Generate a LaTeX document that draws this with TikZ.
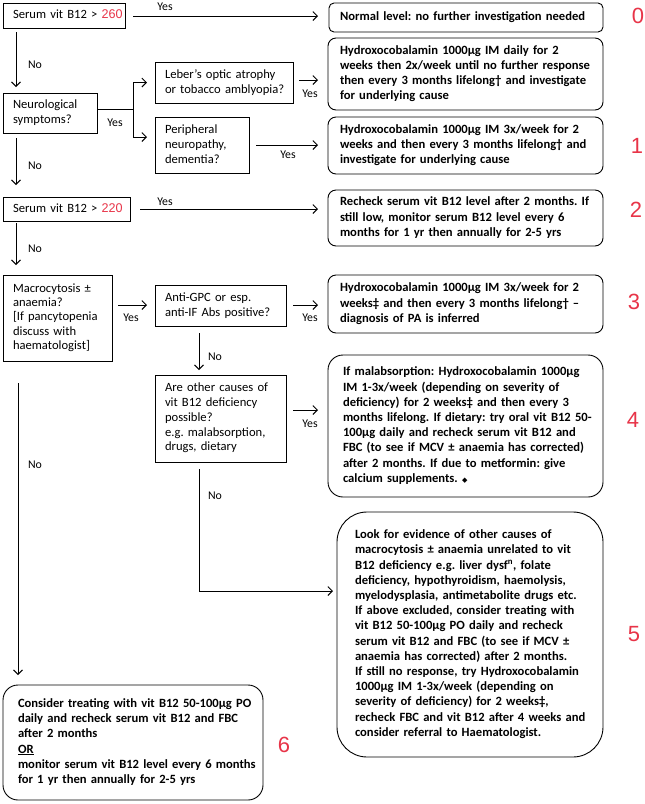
\documentclass[tikz,border=0pt]{standalone}
\usepackage{fontspec}
\setmainfont{Carlito}
\newfontfamily\hel{Liberation Sans}
\newfontfamily\dejavu{DejaVu Sans}
\usetikzlibrary{arrows.meta}
\definecolor{numred}{RGB}{232,52,72}
\newcommand\tl[1]{\begin{tabular}{@{}l@{}}#1\end{tabular}}
\newcommand\rd[1]{{\hel\color{numred}#1}}
\frenchspacing
\tikzset{
  base/.style={draw, line width=0.9pt, anchor=north west, outer sep=0pt, inner ysep=1pt, align=left},
  lbox/.style={base, font=\frenchspacing\fontsize{12.6}{15}\selectfont},
  rbox/.style={base, font=\frenchspacing\fontsize{12.6}{15.2}\selectfont\bfseries},
  lab/.style={font=\fontsize{11.8}{13}\selectfont, inner sep=0pt},
  num/.style={font=\hel\fontsize{22}{24}\selectfont, text=numred, inner sep=0pt},
  arr/.style={line width=0.9pt, -{Straight Barb[length=4.5pt,width=9pt,line width=0.9pt]}},
  con/.style={line width=0.9pt}
}
\begin{document}
\begin{tikzpicture}[x=1pt,y=-1pt]
\fill[white] (0,0) rectangle (645,804);
\useasboundingbox (0,0) rectangle (645,804);

% left column
\node[lbox, minimum width=122pt, minimum height=25pt, inner xsep=10pt, text width=102pt] (n260) at (3,3) {\tl{Serum vit B12 > \rd{260}}};
\node[lbox, minimum width=94pt, minimum height=40pt, inner xsep=10pt, text width=74pt] (neuro) at (3,93) {\tl{Neurological\\symptoms?}};
\node[lbox, minimum width=138pt, minimum height=41pt, inner xsep=10pt, text width=118pt] (leber) at (155,62) {\tl{Leber’s optic atrophy\\or tobacco amblyopia?}};
\node[lbox, minimum width=94pt, minimum height=56pt, inner xsep=10pt, text width=74pt] (peri) at (155,117) {\tl{Peripheral\\neuropathy,\\dementia?}};
\node[lbox, minimum width=127pt, minimum height=24pt, inner xsep=10pt, text width=107pt] (s220) at (3,197) {\tl{Serum vit B12 > \rd{220}}};
\node[lbox, font=\frenchspacing\fontsize{12.6}{14.4}\selectfont, minimum width=109pt, minimum height=86pt, inner xsep=10pt, text width=89pt] (macro) at (3,275) {\tl{Macrocytosis ±\\anaemia?\\{[}If pancytopenia\\discuss with\\haematologist]}};
\node[lbox, minimum width=131pt, minimum height=41pt, inner xsep=10pt, text width=111pt] (antigpc) at (155,285) {\tl{Anti-GPC or esp.\\anti-IF Abs positive?}};
\node[lbox, font=\frenchspacing\fontsize{12.6}{14.75}\selectfont, minimum width=131pt, minimum height=87pt, inner xsep=10pt, text width=111pt] (other) at (155,375) {\tl{Are other causes of\\vit B12 deficiency\\possible?\\e.g. malabsorption,\\drugs, dietary}};

% right column
\node[rbox, rounded corners=5pt, minimum width=274pt, minimum height=29pt, inner xsep=11pt, text width=252pt] (box0) at (329,3) {\tl{Normal level: no further investigation needed}};
\node[rbox, rounded corners=8pt, minimum width=275pt, minimum height=72pt, inner xsep=12pt, text width=251pt] (box1a) at (328,38) {\tl{Hydroxocobalamin 1000µg IM daily for 2\\weeks then 2x/week until no further response\\then every 3 months lifelong† and investigate\\for underlying cause}};
\node[rbox, rounded corners=8pt, minimum width=275pt, minimum height=57pt, inner xsep=12pt, text width=251pt] (box1b) at (328,117) {\tl{Hydroxocobalamin 1000µg IM 3x/week for 2\\weeks and then every 3 months lifelong† and\\investigate for underlying cause}};
\node[rbox, rounded corners=8pt, minimum width=275pt, minimum height=56pt, inner xsep=12pt, text width=251pt] (box2) at (328,190) {\tl{Recheck serum vit B12 level after 2 months. If\\still low, monitor serum B12 level every 6\\months for 1 yr then annually for 2-5 yrs}};
\node[rbox, rounded corners=8pt, minimum width=275pt, minimum height=58pt, inner xsep=12pt, text width=251pt] (box3) at (328,275) {\tl{Hydroxocobalamin 1000µg IM 3x/week for 2\\weeks‡ and then every 3 months lifelong† –\\diagnosis of PA is inferred}};
\node[rbox, rounded corners=15pt, minimum width=275pt, minimum height=142pt, inner xsep=15pt, text width=245pt] (box4) at (328,355) {\tl{If malabsorption: Hydroxocobalamin 1000µg\\IM 1-3x/week (depending on severity of\\deficiency) for 2 weeks‡ and then every 3\\months lifelong. If dietary: try oral vit B12 50-\\100µg daily and recheck serum vit B12 and\\FBC (to see if MCV ± anaemia has corrected)\\after 2 months. If due to metformin: give\\calcium supplements. {\dejavu\fontsize{7}{8}\selectfont ◆}}};
\node[rbox, rounded corners=30pt, minimum width=266pt, minimum height=245pt, inner xsep=18pt, text width=230pt] (box5) at (337,512) {\tl{Look for evidence of other causes of\\macrocytosis ± anaemia unrelated to vit\\B12 deficiency e.g. liver dysf\textsuperscript{n}, folate\\deficiency, hypothyroidism, haemolysis,\\myelodysplasia, antimetabolite drugs etc.\\If above excluded, consider treating with\\vit B12 50-100µg PO daily and recheck\\serum vit B12 and FBC (to see if MCV ±\\anaemia has corrected) after 2 months.\\If still no response, try Hydroxocobalamin\\1000µg IM 1-3x/week (depending on\\severity of deficiency) for 2 weeks‡,\\recheck FBC and vit B12 after 4 weeks and\\consider referral to Haematologist.}};
\node[rbox, rounded corners=15pt, minimum width=260pt, minimum height=115pt, inner xsep=15pt, text width=230pt] (box6) at (3,685) {\tl{Consider treating with vit B12 50-100µg PO\\daily and recheck serum vit B12 and FBC\\after 2 months\\\underline{OR}\\monitor serum vit B12 level every 6 months\\for 1 yr then annually for 2-5 yrs}};

% numbers
\node[num] (k0) at (638,16) {0};
\node[num] (k1) at (637,146) {1};
\node[num] (k2) at (636,210) {2};
\node[num] (k3) at (634,302) {3};
\node[num] (k4) at (633,420) {4};
\node[num] (k5) at (634,634) {5};
\node[num] (k6) at (284,745) {6};

% connectors
\draw[arr, shorten <=8pt, shorten >=11pt] (n260.east |- 0,16) -- (box0.west |- 0,16);
\draw[arr, shorten <=4pt, shorten >=6pt] (n260.south west -| 16,0) -- (neuro.north west -| 16,0);
\coordinate (split) at (133,109);
\draw[con] (neuro.east |- split) -- (split);
\draw[arr, shorten >=8pt] (split) |- (leber.west);
\draw[arr, shorten >=8pt] (split) |- (peri.west |- 0,137);
\draw[arr, shorten <=6pt, shorten >=10pt] (leber.east |- 0,80) -- (box1a.west |- 0,80);
\draw[arr, shorten <=7pt, shorten >=10pt] (peri.east |- 0,145) -- (box1b.west |- 0,145);
\draw[arr, shorten <=5pt, shorten >=12pt] (neuro.south west -| 16,0) -- (s220.north west -| 16,0);
\draw[arr, shorten <=10pt, shorten >=10pt] (s220.east |- 0,209) -- (box2.west |- 0,209);
\draw[arr, shorten <=2pt, shorten >=10pt] (s220.south west -| 16,0) -- (macro.north west -| 16,0);
\draw[arr, shorten <=6pt, shorten >=8pt] (macro.east |- 0,305) -- (antigpc.west |- 0,305);
\draw[arr, shorten <=7pt, shorten >=10pt] (antigpc.east |- 0,305) -- (box3.west |- 0,305);
\draw[arr, shorten <=7pt, shorten >=5pt] (antigpc.south west -| 199,0) -- (other.north west -| 199,0);
\draw[arr, shorten <=7pt, shorten >=10pt] (other.east |- 0,410) -- (box4.west |- 0,410);
\draw[arr, shorten <=7pt, shorten >=4pt] (other.south -| 199,0) |- (box5.west |- 0,591);
\draw[arr, shorten <=22pt, shorten >=10pt] (macro.south west -| 18,0) -- (box6.north west -| 18,0);

% labels
\node[lab] (y1) at (165,7) {Yes};
\node[lab] (no1) at (35,65) {No};
\node[lab] (y2) at (115,123) {Yes};
\node[lab] (y3) at (310,94) {Yes};
\node[lab] (y4) at (288,155) {Yes};
\node[lab] (no2) at (35,166) {No};
\node[lab] (y5) at (165,202) {Yes};
\node[lab] (no3) at (35,249) {No};
\node[lab] (y6) at (131,318) {Yes};
\node[lab] (y7) at (310,318) {Yes};
\node[lab] (no4) at (215,357) {No};
\node[lab] (y8) at (310,424) {Yes};
\node[lab] (no5) at (35,465) {No};
\node[lab] (no6) at (215,496) {No};
\end{tikzpicture}
\end{document}
